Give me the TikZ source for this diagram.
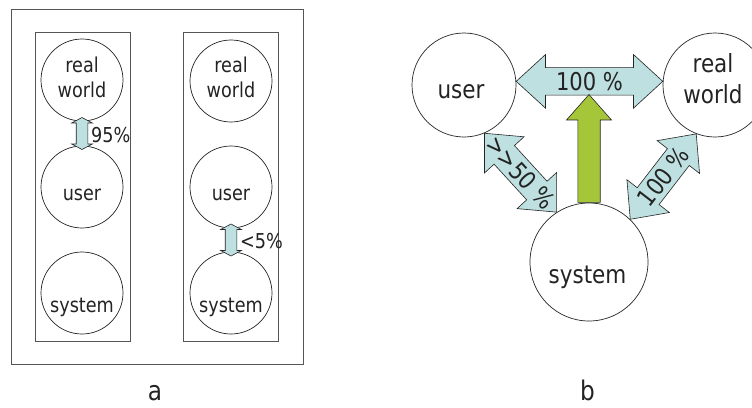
\documentclass[tikz,border=0pt]{standalone}
\usepackage{fontspec}
\setmainfont{DejaVu Sans}[FakeStretch=0.86]
\usepackage{xcolor}
\usetikzlibrary{calc,positioning,shapes.arrows}

\definecolor{linkblue}{RGB}{190,224,224}
\definecolor{pushgreen}{RGB}{166,198,58}
\definecolor{ink}{RGB}{35,35,35}
\definecolor{framegray}{RGB}{85,85,85}

\newcommand{\colfont}{\fontsize{20.5}{25}\selectfont}
\newcommand{\panelfont}{\fontsize{25}{31}\selectfont}
\newcommand{\pctfont}{\fontsize{24.5}{24.5}\selectfont}
\newcommand{\tagfont}{\fontsize{27}{27}\selectfont}

\begin{document}
\begin{tikzpicture}[x=1pt, y=-1pt,
    ball/.style={circle, draw=ink, line width=0.7pt, inner sep=0pt},
    word/.style={inner sep=0pt, text=ink, align=center},
    wide/.style={double arrow, draw=ink, fill=linkblue, line width=0.6pt, inner xsep=0pt, inner ysep=13.5pt,
        text height=0pt, text depth=0pt, double arrow head extend=13pt, double arrow tip angle=85},
    narrow/.style={double arrow, draw=ink, fill=linkblue, line width=0.6pt, inner xsep=0pt, inner ysep=5.5pt,
        text height=0pt, text depth=0pt, double arrow head extend=4.5pt, double arrow tip angle=124},
    push/.style={single arrow, draw=ink, fill=pushgreen, line width=0.6pt, inner xsep=0pt, inner ysep=10.9pt,
        text height=0pt, text depth=0pt, single arrow head extend=11.3pt, single arrow tip angle=83}]
    \useasboundingbox (0,0) rectangle (752,407);

    % panel a
    \draw[framegray, line width=0.8pt] (11,9) rectangle (303,364);
    \draw[framegray, line width=0.8pt] (35,32) rectangle (130,341);
    \draw[framegray, line width=0.8pt] (183,32) rectangle (278,341);

    \node[ball, minimum size=82pt] (rw1) at (82,80) {};
    \node[ball, minimum size=82pt] (user1) at (82,187) {};
    \node[ball, minimum size=82pt] (sys1) at (82,293) {};
    \node[ball, minimum size=82pt] (rw2) at (231,81) {};
    \node[ball, minimum size=82pt] (user2) at (231,187) {};
    \node[ball, minimum size=82pt] (sys2) at (231,293) {};

    \node[word, font=\colfont, anchor=north] (rw1t) at ($(rw1)+(0,-23)$) {real\\world};
    \node[word, font=\colfont, anchor=base] (user1t) at ($(user1)+(0,13)$) {user};
    \node[word, font=\colfont, anchor=base] (sys1t) at ($(sys1)+(0,19)$) {system};
    \node[word, font=\colfont, anchor=north] (rw2t) at ($(rw2)+(0,-24)$) {real\\world};
    \node[word, font=\colfont, anchor=base] (user2t) at ($(user2)+(0,13)$) {user};
    \node[word, font=\colfont, anchor=base] (sys2t) at ($(sys2)+(0,19)$) {system};

    \node[narrow, rotate=90, minimum height=32pt] (rw1user1) at ($(rw1.south)!.5!(user1.north)$) {};
    \node[word, font=\colfont, anchor=west] (rw1user1t) at ($(rw1user1.center)+(9,1.5)$) {95\%};
    \node[narrow, rotate=90, minimum height=32pt] (user2sys2) at ($(user2.south)!.5!(sys2.north)$) {};
    \node[word, font=\colfont, anchor=west] (user2sys2t) at ($(user2sys2.center)+(9,1)$) {<5\%};

    \node[word, font=\tagfont, anchor=base] (taga) at (155,400) {a};

    % panel b
    \node[ball, minimum size=104pt] (user) at (464,85) {};
    \node[ball, minimum size=104pt] (world) at (715,85) {};
    \node[ball, minimum size=118pt] (system) at (589,262) {};

    \path let \p1=(user.4), \p2=(world.176), \n1={atan2(\y2-\y1,\x2-\x1)}, \n2={veclen(\x2-\x1,\y2-\y1)} in
        node[wide, rotate=\n1, minimum height=\n2] (uw) at ($(\p1)!.5!(\p2)$) {}
        node[word, font=\pctfont, rotate=\n1] (uwt) at ($(\p1)!.5!(\p2)$) {100 \%};
    \path let \p1=(user.-67), \p2=(system.123), \n1={atan2(\y2-\y1,\x2-\x1)}, \n2={veclen(\x2-\x1,\y2-\y1)} in
        node[wide, rotate=\n1, minimum height=\n2] (us) at ($(\p1)!.5!(\p2)$) {}
        node[word, font=\pctfont, rotate=\n1] (ust) at ($(\p1)!.5!(\p2)$) {>{}>50 \%};
    \path let \p1=(system.46), \p2=(world.249), \n1={atan2(\y2-\y1,\x2-\x1)}, \n2={veclen(\x2-\x1,\y2-\y1)} in
        node[wide, rotate=\n1, minimum height=\n2] (sw) at ($(\p1)!.5!(\p2)$) {}
        node[word, font=\pctfont, rotate=\n1] (swt) at ($(\p1)!.5!(\p2)$) {100 \%};
    \path let \p1=(system.north), \p2=(uw.center), \n1={\y2-\y1-13.5pt} in
        node[push, anchor=tail, rotate=90, minimum height=\n1] (up) at (\p1) {};

    \node[word, font=\panelfont, anchor=base] (usert) at ($(user)+(-3,13)$) {user};
    \node[word, font=\panelfont, anchor=north] (worldt) at ($(world)+(-2,-32)$) {real\\world};
    \node[word, font=\panelfont, anchor=base] (systemt) at ($(system)+(-1.5,21)$) {system};

    \node[word, font=\tagfont, anchor=base] (tagb) at (587.5,400) {b};
\end{tikzpicture}
\end{document}
